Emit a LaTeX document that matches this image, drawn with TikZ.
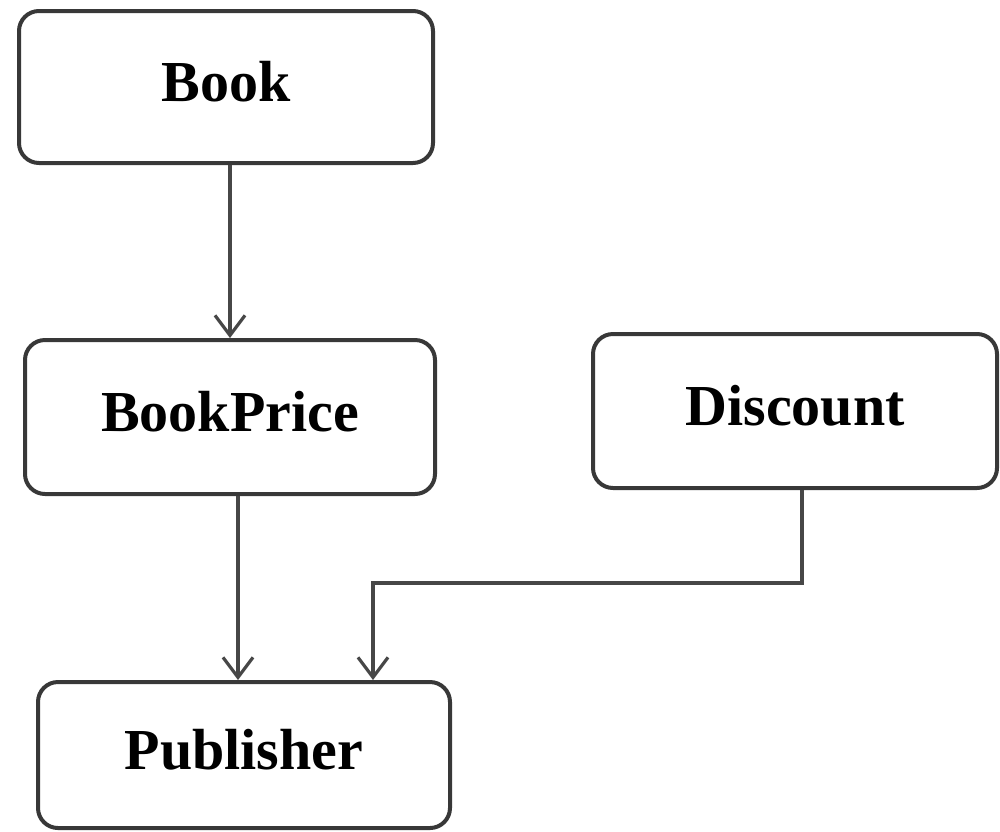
\documentclass[tikz,border=0pt]{standalone}
\usepackage{fontspec}
\setmainfont{Liberation Serif}
\usetikzlibrary{arrows.meta}
\begin{document}
\begin{tikzpicture}[x=0.5pt, y=-0.5pt,
    box/.style={draw=black!78, line width=2pt, rounded corners=10pt, text depth=6pt, font=\fontsize{29}{33}\selectfont\bfseries},
    link/.style={draw=black!72, line width=2pt, -{Straight Barb[length=10pt, width=15pt, line width=1.6pt]}}]
 \useasboundingbox (0,0) rectangle (1000,831);
 \node[box, minimum width=207pt, minimum height=76pt] (book) at (226,87) {Book};
 \node[box, minimum width=205pt, minimum height=77pt] (bookprice) at (230,417) {BookPrice};
 \node[box, minimum width=202pt, minimum height=77pt] (discount) at (795,411) {Discount};
 \node[box, minimum width=206pt, minimum height=73pt] (publisher) at (244,755) {Publisher};
 \coordinate (bend) at (802,583);
 \draw[link] ([xshift=2pt]book.south) -- ([xshift=2pt]book.south |- bookprice.north);
 \draw[link] ([xshift=4pt]bookprice.south) -- ([xshift=4pt]bookprice.south |- publisher.north);
 \draw[link] (discount.south -| bend) -- (bend) -| ([xshift=64.5pt]publisher.north);
\end{tikzpicture}
\end{document}
